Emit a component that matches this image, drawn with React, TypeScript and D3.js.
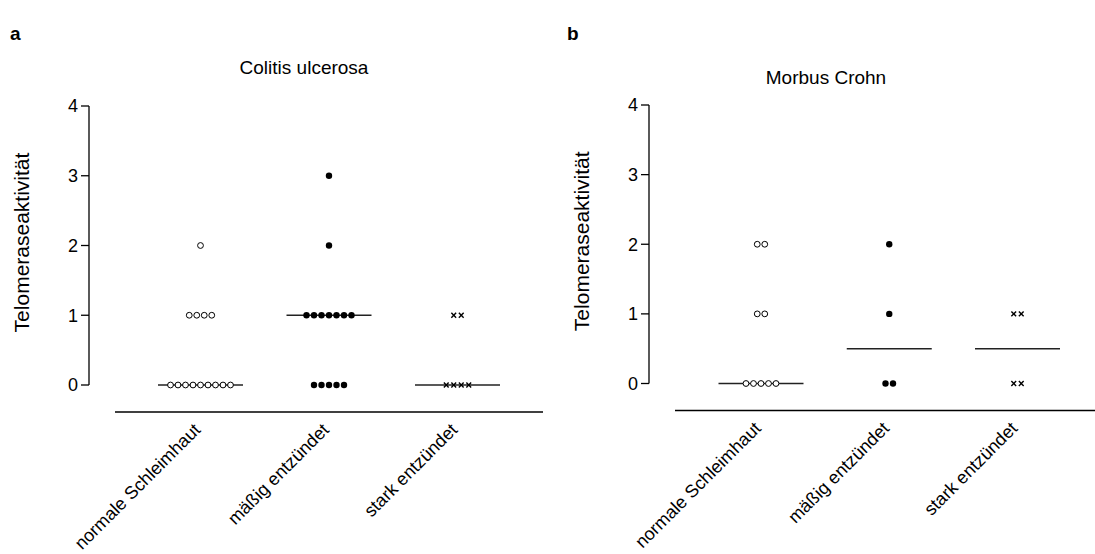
import React from "react";
import * as d3 from "d3";

// ---- Data ----
const categories = ["normale Schleimhaut", "mäßig entzündet", "stark entzündet"];
const yTicks = [0, 1, 2, 3, 4];

// Panel a: Colitis ulcerosa
const cuNormal = [0, 0, 0, 0, 0, 0, 0, 0, 0, 1, 1, 1, 1, 2];
const cuModerate = [0, 0, 0, 0, 0, 1, 1, 1, 1, 1, 1, 1, 2, 3];
const cuSevere = [0, 0, 0, 0, 1, 1];

// Panel b: Morbus Crohn
const mcNormal = [0, 0, 0, 0, 0, 1, 1, 2, 2];
const mcModerate = [0, 0, 1, 2];
const mcSevere = [0, 0, 1, 1];

const markerTypes = ["open", "filled", "cross"];

const FONT = "'Liberation Sans', Arial, Helvetica, sans-serif";

type PanelProps = {
  letter: string;
  letterX: number;
  title: string;
  titleX: number;
  titleY: number;
  groups: number[][];
  axisX: number;
  yTop: number;
  yBottom: number;
  xRange: [number, number];
  xAxisLine: [number, number];
  xAxisY: number;
};

function Marker({ type, x, y }: { type: string; x: number; y: number }) {
  if (type === "open")
    return <circle cx={x} cy={y} r={2.9} fill="#fff" stroke="#000" strokeWidth={1} />;
  if (type === "filled") return <circle cx={x} cy={y} r={3.2} fill="#000" />;
  const s = 2.4;
  return (
    <g stroke="#000" strokeWidth={1.4}>
      <line x1={x - s} y1={y - s} x2={x + s} y2={y + s} />
      <line x1={x - s} y1={y + s} x2={x + s} y2={y - s} />
    </g>
  );
}

function Panel(p: PanelProps) {
  const y = d3.scaleLinear().domain([0, 4]).range([p.yBottom, p.yTop]);
  const x = d3.scalePoint<string>().domain(categories).range(p.xRange);
  const spacing = 7.5;
  const medianHalf = 42.5;
  return (
    <g fontFamily={FONT}>
      <text x={p.letterX} y={40} fontSize={19} fontWeight="bold">
        {p.letter}
      </text>
      <text x={p.titleX} y={p.titleY} fontSize={19} textAnchor="middle">
        {p.title}
      </text>
      {/* y axis */}
      <line x1={p.axisX} x2={p.axisX} y1={y(0)} y2={y(4)} stroke="#000" strokeWidth={1.3} />
      {yTicks.map((t) => (
        <g key={t}>
          <line x1={p.axisX - 8} x2={p.axisX} y1={y(t)} y2={y(t)} stroke="#000" strokeWidth={1.3} />
          <text x={p.axisX - 11} y={y(t)} dy="0.35em" fontSize={18} textAnchor="end">
            {t}
          </text>
        </g>
      ))}
      <text
        transform={`translate(${p.axisX - 60},${(y(0) + y(4)) / 2 - 3}) rotate(-90)`}
        fontSize={21}
        textAnchor="middle"
      >
        Telomeraseaktivität
      </text>
      {/* x axis */}
      <line x1={p.xAxisLine[0]} x2={p.xAxisLine[1]} y1={p.xAxisY} y2={p.xAxisY} stroke="#000" strokeWidth={1.3} />
      {categories.map((c) => (
        <text
          key={c}
          transform={`translate(${(x(c) ?? 0) + 1},${p.xAxisY + 19}) rotate(-45)`}
          fontSize={18}
          textAnchor="end"
        >
          {c}
        </text>
      ))}
      {/* data */}
      {p.groups.map((vals, gi) => {
        const cx = x(categories[gi]) ?? 0;
        const med = d3.median(vals) ?? 0;
        const rows = d3.groups(vals, (v) => v);
        return (
          <g key={gi}>
            <line
              x1={cx - medianHalf}
              x2={cx + medianHalf}
              y1={y(med)}
              y2={y(med)}
              stroke="#222"
              strokeWidth={1.4}
            />
            {rows.map(([v, arr]) =>
              arr.map((_, i) => (
                <Marker
                  key={`${v}-${i}`}
                  type={markerTypes[gi]}
                  x={cx + (i - (arr.length - 1) / 2) * spacing}
                  y={y(v)}
                />
              ))
            )}
          </g>
        );
      })}
    </g>
  );
}

export default function App() {
  return (
    <svg
      width={1095}
      height={554}
      style={{ position: "absolute", left: 0, top: 0, background: "#fff" }}
    >
      <rect width={1095} height={554} fill="#fff" />
      <Panel
        letter="a"
        letterX={10}
        title="Colitis ulcerosa"
        titleX={304}
        titleY={74}
        groups={[cuNormal, cuModerate, cuSevere]}
        axisX={89}
        yTop={106}
        yBottom={385}
        xRange={[200.5, 457.5]}
        xAxisLine={[115, 543]}
        xAxisY={412}
      />
      <Panel
        letter="b"
        letterX={567}
        title="Morbus Crohn"
        titleX={826}
        titleY={84}
        groups={[mcNormal, mcModerate, mcSevere]}
        axisX={649}
        yTop={105}
        yBottom={383.5}
        xRange={[761, 1017.5]}
        xAxisLine={[675, 1095]}
        xAxisY={410.5}
      />
    </svg>
  );
}
